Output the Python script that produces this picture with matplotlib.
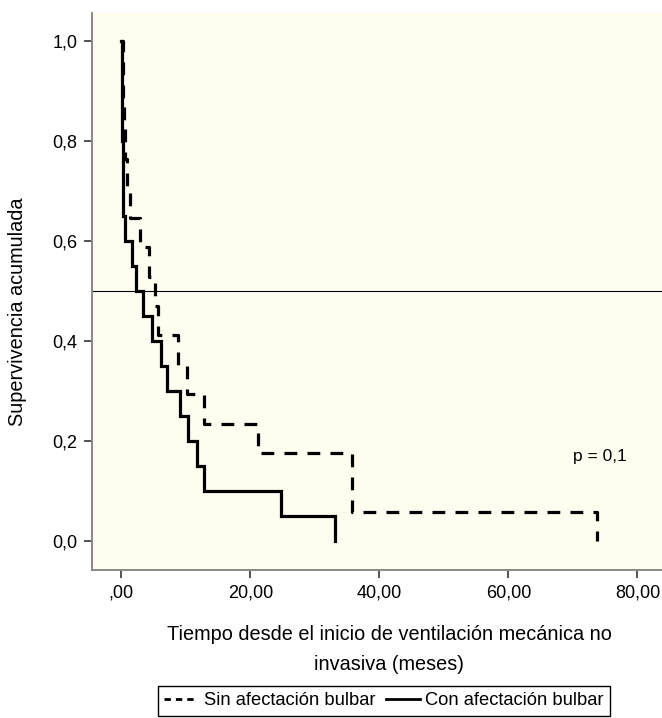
import matplotlib
matplotlib.use("Agg")
import matplotlib.pyplot as plt
from matplotlib.lines import Line2D

plt.rcParams['font.family'] = ['Liberation Sans', 'DejaVu Sans']

# Kaplan-Meier steps
con_times = [0, 0.05, 0.1, 0.12, 0.15, 0.2, 0.25, 0.3, 0.5, 1.6, 2.3, 3.3, 4.8,
             6.2, 7.1, 9.1, 10.3, 11.75, 12.8, 24.7, 33.1]
con_surv = [1.0, 0.95, 0.90, 0.85, 0.80, 0.75, 0.70, 0.65, 0.60, 0.55, 0.50,
            0.45, 0.40, 0.35, 0.30, 0.25, 0.20, 0.15, 0.10, 0.05, 0.0]

sin_times = [0, 0.2, 0.25, 0.4, 0.6, 0.8, 1.3, 2.8, 4.3, 5.2, 5.7, 8.8, 10.1,
             12.8, 21.2, 35.7, 73.8]
sin_surv = [1.0, 0.941, 0.882, 0.824, 0.765, 0.706, 0.647, 0.588, 0.529, 0.471,
            0.412, 0.353, 0.294, 0.235, 0.176, 0.059, 0.0]

x_ticks = [0, 20, 40, 60, 80]
x_labels = [",00", "20,00", "40,00", "60,00", "80,00"]
y_ticks = [0.0, 0.2, 0.4, 0.6, 0.8, 1.0]
y_labels = ["0,0", "0,2", "0,4", "0,6", "0,8", "1,0"]

W, H = 662, 718
fig = plt.figure(figsize=(W / 100, H / 100), dpi=100)
ax = fig.add_axes([92 / W, 1 - 570 / H, 1 - 92 / W, (570 - 13) / H])
ax.set_facecolor('#FEFDF0')

ax.plot(sin_times, sin_surv, drawstyle='steps-post', color='black', lw=2.3,
        dashes=(4, 3.2), solid_capstyle='butt', dash_capstyle='butt')
ax.plot(con_times, con_surv, drawstyle='steps-post', color='black', lw=2.3,
        solid_joinstyle='miter')
ax.axhline(0.5, color='black', lw=0.8)

ax.set_xlim(-4.57, 83.8)
ax.set_ylim(-0.058, 1.056)
ax.set_xticks(x_ticks)
ax.set_xticklabels(x_labels)
ax.set_yticks(y_ticks)
ax.set_yticklabels(y_labels)
ax.tick_params(axis='both', direction='out', length=6, width=1.3,
               color='#444444', labelsize=13, pad=4.5)
for s in ['top', 'right']:
    ax.spines[s].set_visible(False)
for s in ['left', 'bottom']:
    ax.spines[s].set_color('#888888')
    ax.spines[s].set_linewidth(1.4)

ax.text(70, 0.168, "p = 0,1", fontsize=12.5, ha='left', va='center')

fig.text(18 / W, 1 - 312 / H, "Supervivencia acumulada", rotation=90,
         ha='center', va='center', fontsize=14.3)
fig.text(389 / W, 1 - 635 / H, "Tiempo desde el inicio de ventilación mecánica no",
         ha='center', va='center', fontsize=14.3)
fig.text(389 / W, 1 - 664 / H, "invasiva (meses)",
         ha='center', va='center', fontsize=14.3)

handles = [Line2D([], [], color='black', lw=2.0, dashes=(2.3, 1.8)),
           Line2D([], [], color='black', lw=2.0)]
leg = fig.legend(handles, ["Sin afectación bulbar", "Con afectación bulbar"],
                 loc='upper center', bbox_to_anchor=(384 / W, 1 - 686 / H),
                 ncol=2, fontsize=13.2, frameon=True, fancybox=False,
                 edgecolor='black', framealpha=1, handlelength=1.85,
                 handletextpad=0.3, columnspacing=0.6, borderpad=0.35,
                 borderaxespad=0)
leg.get_frame().set_linewidth(1.0)

fig.savefig("out.png", dpi=100)
